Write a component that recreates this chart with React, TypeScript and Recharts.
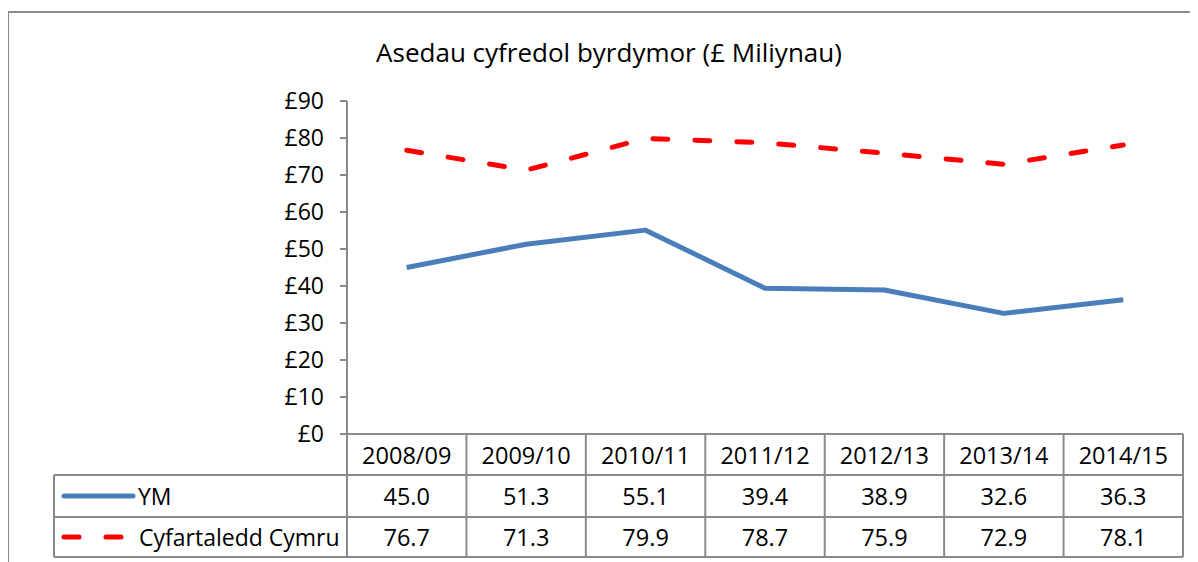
import { LineChart, Line, XAxis, YAxis } from 'recharts'

const YEARS = ['2008/09', '2009/10', '2010/11', '2011/12', '2012/13', '2013/14', '2014/15']
const YM = [45.0, 51.3, 55.1, 39.4, 38.9, 32.6, 36.3]
const CYMRU = [76.7, 71.3, 79.9, 78.7, 75.9, 72.9, 78.1]
const Y_TICKS = [0, 10, 20, 30, 40, 50, 60, 70, 80, 90]
const SERIES_NAMES = ['YM', 'Cyfartaledd Cymru']
const TITLE = 'Asedau cyfredol byrdymor (£ Miliynau)'

const data = YEARS.map((year, i) => ({ year, ym: YM[i], cymru: CYMRU[i] }))

const W = 1190
const H = 554
const PLOT_LEFT = 339
const PLOT_RIGHT = 1175
const PLOT_TOP = 93
const PLOT_BOTTOM = 426
const COL = (PLOT_RIGHT - PLOT_LEFT) / YEARS.length
const ROW1 = 467
const ROW2 = 509
const TABLE_BOTTOM = 549
const LEGEND_LEFT = 46

const FONT = '"Open Sans", sans-serif'
const GRID = '#8a8a8a'
const BLUE = '#4a7ebb'
const RED = '#ff0000'
const DASH = '15 27'

const cellText = {
  fontFamily: FONT,
  fontSize: 23.5,
  fill: '#000',
}

const legendText = { ...cellText, fontSize: 23 }

function TableTick(props: any) {
  const { x, index } = props
  const half = COL / 2
  const headerY = (PLOT_BOTTOM + ROW1) / 2
  const r1 = (ROW1 + ROW2) / 2
  const r2 = (ROW2 + TABLE_BOTTOM) / 2
  return (
    <g>
      {index === 0 && (
        <g>
          {[ROW1, ROW2, TABLE_BOTTOM].map((y) => (
            <line key={y} x1={LEGEND_LEFT} x2={PLOT_RIGHT} y1={y} y2={y} stroke={GRID} strokeWidth={2} />
          ))}
          <line x1={LEGEND_LEFT} x2={LEGEND_LEFT} y1={ROW1} y2={TABLE_BOTTOM} stroke={GRID} strokeWidth={2} />
          <line x1={x - half} x2={x - half} y1={PLOT_BOTTOM} y2={TABLE_BOTTOM} stroke={GRID} strokeWidth={2} />
          <line x1={56} x2={125} y1={r1} y2={r1} stroke={BLUE} strokeWidth={5} strokeLinecap="round" />
          <text x={130} y={r1} dominantBaseline="central" {...legendText}>{SERIES_NAMES[0]}</text>
          <line x1={56} x2={125} y1={r2} y2={r2} stroke={RED} strokeWidth={5} strokeLinecap="round" strokeDasharray={DASH} />
          <text x={131} y={r2} dominantBaseline="central" {...legendText}>{SERIES_NAMES[1]}</text>
        </g>
      )}
      <line x1={x + half} x2={x + half} y1={PLOT_BOTTOM} y2={TABLE_BOTTOM} stroke={GRID} strokeWidth={2} />
      <text x={x} y={headerY} textAnchor="middle" dominantBaseline="central" {...cellText}>{YEARS[index]}</text>
      <text x={x} y={r1} textAnchor="middle" dominantBaseline="central" {...cellText}>{YM[index].toFixed(1)}</text>
      <text x={x} y={r2} textAnchor="middle" dominantBaseline="central" {...cellText}>{CYMRU[index].toFixed(1)}</text>
    </g>
  )
}

export default function App() {
  return (
    <div style={{ position: 'relative', width: W, height: H }}>
      <div
        style={{
          position: 'absolute',
          left: -1,
          top: 3,
          width: 1210,
          height: 560,
          borderTop: `2px solid ${GRID}`,
          borderLeft: `2px solid ${GRID}`,
          boxSizing: 'border-box',
        }}
      />
      <div
        style={{
          position: 'absolute',
          left: 0,
          top: 27,
          width: 1202,
          textAlign: 'center',
          fontFamily: FONT,
          fontSize: 26,
          color: '#000',
          lineHeight: '34px',
        }}
      >
        {TITLE}
      </div>
      <LineChart
        width={W}
        height={H}
        data={data}
        margin={{ top: PLOT_TOP, right: W - PLOT_RIGHT, bottom: 0, left: 0 }}
        style={{ position: 'absolute', left: 0, top: 0 }}
      >
        <XAxis
          dataKey="year"
          height={H - PLOT_BOTTOM}
          padding={{ left: COL / 2, right: COL / 2 }}
          axisLine={{ stroke: GRID, strokeWidth: 2 }}
          tickLine={false}
          tick={<TableTick />}
          interval={0}
        />
        <YAxis
          width={PLOT_LEFT}
          domain={[0, 90]}
          ticks={Y_TICKS}
          tickFormatter={(v) => `£${v}`}
          axisLine={{ stroke: GRID, strokeWidth: 2 }}
          tickLine={{ stroke: GRID, strokeWidth: 2 }}
          tickSize={7}
          tickMargin={16}
          tick={{ fill: '#000', fontSize: 23, fontFamily: FONT }}
        />
        <Line
          dataKey="ym"
          stroke={BLUE}
          strokeWidth={5}
          dot={false}
          strokeLinejoin="round"
          isAnimationActive={false}
        />
        <Line
          dataKey="cymru"
          stroke={RED}
          strokeWidth={5}
          strokeDasharray={DASH}
          strokeLinecap="round"
          dot={false}
          isAnimationActive={false}
        />
      </LineChart>
    </div>
  )
}
